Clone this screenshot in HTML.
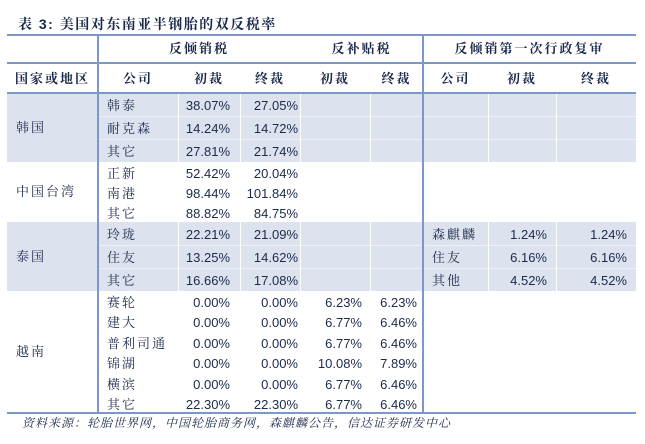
<!DOCTYPE html>
<html><head><meta charset="utf-8"><style>
body{margin:0;width:645px;height:444px;background:#fff;position:relative;overflow:hidden;font-family:"Liberation Sans","Noto Serif CJK SC","Noto Sans CJK SC",serif;color:#1b2a4a;}
.a{position:absolute;white-space:nowrap;font-size:13px;line-height:14px;}
.r{text-align:right;}
.c{text-align:center;}
.s{letter-spacing:2px;}
.b{position:absolute;}
.h{font-family:"Liberation Sans","Noto Serif CJK SC",serif;font-weight:bold;color:#1b2a4a;letter-spacing:2px;}
.v{position:absolute;width:1px;background:#fff;}
</style></head><body>
<div class="a h" style="left:18px;top:16px;font-size:14px;line-height:16px;letter-spacing:1.5px;">表 3: 美国对东南亚半钢胎的双反税率</div>

<!-- shading -->
<div class="b" style="left:7px;top:93px;width:416px;height:69px;background:#dce3ef"></div>
<div class="b" style="left:7px;top:222px;width:416px;height:69px;background:#dce3ef"></div>
<div class="b" style="left:423px;top:93px;width:213px;height:69px;background:#dce3ef"></div>
<div class="b" style="left:423px;top:222px;width:213px;height:69px;background:#dce3ef"></div>
<!-- white separators -->
<div class="b" style="left:98px;top:116px;width:538px;height:1px;background:#eef2f8"></div>
<div class="b" style="left:98px;top:139px;width:538px;height:1px;background:#eef2f8"></div>
<div class="b" style="left:98px;top:245px;width:538px;height:1px;background:#eef2f8"></div>
<div class="b" style="left:98px;top:268px;width:538px;height:1px;background:#eef2f8"></div>
<div class="v" style="left:178px;top:93px;height:69px"></div><div class="v" style="left:178px;top:222px;height:69px"></div>
<div class="v" style="left:240px;top:93px;height:69px"></div><div class="v" style="left:240px;top:222px;height:69px"></div>
<div class="v" style="left:300px;top:93px;height:69px"></div><div class="v" style="left:300px;top:222px;height:69px"></div>
<div class="v" style="left:370px;top:93px;height:69px"></div><div class="v" style="left:370px;top:222px;height:69px"></div>
<div class="v" style="left:488px;top:93px;height:69px"></div><div class="v" style="left:488px;top:222px;height:69px"></div>
<div class="v" style="left:556px;top:93px;height:69px"></div><div class="v" style="left:556px;top:222px;height:69px"></div>
<!-- blue lines -->
<div class="b" style="left:7px;top:34px;width:629px;height:2px;background:#7b98c8"></div>
<div class="b" style="left:7px;top:62px;width:629px;height:2px;background:#7b98c8"></div>
<div class="b" style="left:7px;top:92px;width:629px;height:2px;background:#7b98c8"></div>
<div class="b" style="left:7px;top:412px;width:629px;height:2px;background:#7b98c8"></div>
<div class="b" style="left:97px;top:35px;width:2px;height:378px;background:#7b98c8"></div>
<div class="b" style="left:422px;top:35px;width:2px;height:378px;background:#7b98c8"></div>

<!-- headers -->
<div class="a h c" style="left:98px;width:202px;top:42px;">反倾销税</div>
<div class="a h c" style="left:300px;width:123px;top:42px;">反补贴税</div>
<div class="a h c" style="left:423px;width:213px;top:42px;">反倾销第一次行政复审</div>
<div class="a h c" style="left:7px;width:91px;top:72px;">国家或地区</div>
<div class="a h c" style="left:98px;width:80px;top:72px;">公司</div>
<div class="a h c" style="left:178px;width:62px;top:72px;">初裁</div>
<div class="a h c" style="left:240px;width:60px;top:72px;">终裁</div>
<div class="a h c" style="left:300px;width:70px;top:72px;">初裁</div>
<div class="a h c" style="left:370px;width:53px;top:72px;">终裁</div>
<div class="a h c" style="left:423px;width:65px;top:72px;">公司</div>
<div class="a h c" style="left:488px;width:68px;top:72px;">初裁</div>
<div class="a h c" style="left:556px;width:80px;top:72px;">终裁</div>

<!-- regions -->
<div class="a s" style="left:16px;top:121px;">韩国</div>
<div class="a s" style="left:16px;top:185px;">中国台湾</div>
<div class="a s" style="left:16px;top:250px;">泰国</div>
<div class="a s" style="left:16px;top:345px;">越南</div>

<!-- rows -->
<div class="a s" style="left:107px;top:99px;">韩泰</div><div class="a r" style="left:150px;width:80px;top:99px;">38.07%</div><div class="a r" style="left:218px;width:80px;top:99px;">27.05%</div>
<div class="a s" style="left:107px;top:122px;">耐克森</div><div class="a r" style="left:150px;width:80px;top:122px;">14.24%</div><div class="a r" style="left:218px;width:80px;top:122px;">14.72%</div>
<div class="a s" style="left:107px;top:145px;">其它</div><div class="a r" style="left:150px;width:80px;top:145px;">27.81%</div><div class="a r" style="left:218px;width:80px;top:145px;">21.74%</div>

<div class="a s" style="left:107px;top:167px;">正新</div><div class="a r" style="left:150px;width:80px;top:167px;">52.42%</div><div class="a r" style="left:218px;width:80px;top:167px;">20.04%</div>
<div class="a s" style="left:107px;top:187px;">南港</div><div class="a r" style="left:150px;width:80px;top:187px;">98.44%</div><div class="a r" style="left:218px;width:80px;top:187px;">101.84%</div>
<div class="a s" style="left:107px;top:207px;">其它</div><div class="a r" style="left:150px;width:80px;top:207px;">88.82%</div><div class="a r" style="left:218px;width:80px;top:207px;">84.75%</div>

<div class="a s" style="left:107px;top:228px;">玲珑</div><div class="a r" style="left:150px;width:80px;top:228px;">22.21%</div><div class="a r" style="left:218px;width:80px;top:228px;">21.09%</div>
<div class="a s" style="left:107px;top:251px;">住友</div><div class="a r" style="left:150px;width:80px;top:251px;">13.25%</div><div class="a r" style="left:218px;width:80px;top:251px;">14.62%</div>
<div class="a s" style="left:107px;top:274px;">其它</div><div class="a r" style="left:150px;width:80px;top:274px;">16.66%</div><div class="a r" style="left:218px;width:80px;top:274px;">17.08%</div>
<div class="a s" style="left:432px;top:228px;">森麒麟</div><div class="a r" style="left:467px;width:80px;top:228px;">1.24%</div><div class="a r" style="left:547px;width:80px;top:228px;">1.24%</div>
<div class="a s" style="left:432px;top:251px;">住友</div><div class="a r" style="left:467px;width:80px;top:251px;">6.16%</div><div class="a r" style="left:547px;width:80px;top:251px;">6.16%</div>
<div class="a s" style="left:432px;top:274px;">其他</div><div class="a r" style="left:467px;width:80px;top:274px;">4.52%</div><div class="a r" style="left:547px;width:80px;top:274px;">4.52%</div>

<div class="a s" style="left:107px;top:296px;">赛轮</div><div class="a r" style="left:150px;width:80px;top:296px;">0.00%</div><div class="a r" style="left:218px;width:80px;top:296px;">0.00%</div><div class="a r" style="left:282px;width:80px;top:296px;">6.23%</div><div class="a r" style="left:337px;width:80px;top:296px;">6.23%</div>
<div class="a s" style="left:107px;top:316px;">建大</div><div class="a r" style="left:150px;width:80px;top:316px;">0.00%</div><div class="a r" style="left:218px;width:80px;top:316px;">0.00%</div><div class="a r" style="left:282px;width:80px;top:316px;">6.77%</div><div class="a r" style="left:337px;width:80px;top:316px;">6.46%</div>
<div class="a s" style="left:107px;top:337px;">普利司通</div><div class="a r" style="left:150px;width:80px;top:337px;">0.00%</div><div class="a r" style="left:218px;width:80px;top:337px;">0.00%</div><div class="a r" style="left:282px;width:80px;top:337px;">6.77%</div><div class="a r" style="left:337px;width:80px;top:337px;">6.46%</div>
<div class="a s" style="left:107px;top:357px;">锦湖</div><div class="a r" style="left:150px;width:80px;top:357px;">0.00%</div><div class="a r" style="left:218px;width:80px;top:357px;">0.00%</div><div class="a r" style="left:282px;width:80px;top:357px;">10.08%</div><div class="a r" style="left:337px;width:80px;top:357px;">7.89%</div>
<div class="a s" style="left:107px;top:378px;">横滨</div><div class="a r" style="left:150px;width:80px;top:378px;">0.00%</div><div class="a r" style="left:218px;width:80px;top:378px;">0.00%</div><div class="a r" style="left:282px;width:80px;top:378px;">6.77%</div><div class="a r" style="left:337px;width:80px;top:378px;">6.46%</div>
<div class="a s" style="left:107px;top:398px;">其它</div><div class="a r" style="left:150px;width:80px;top:398px;">22.30%</div><div class="a r" style="left:218px;width:80px;top:398px;">22.30%</div><div class="a r" style="left:282px;width:80px;top:398px;">6.77%</div><div class="a r" style="left:337px;width:80px;top:398px;">6.46%</div>

<div class="a" style="left:22px;top:416px;font-size:12px;font-style:italic;letter-spacing:1px;">资料来源：轮胎世界网，中国轮胎商务网，森麒麟公告，信达证券研发中心</div>
</body></html>
